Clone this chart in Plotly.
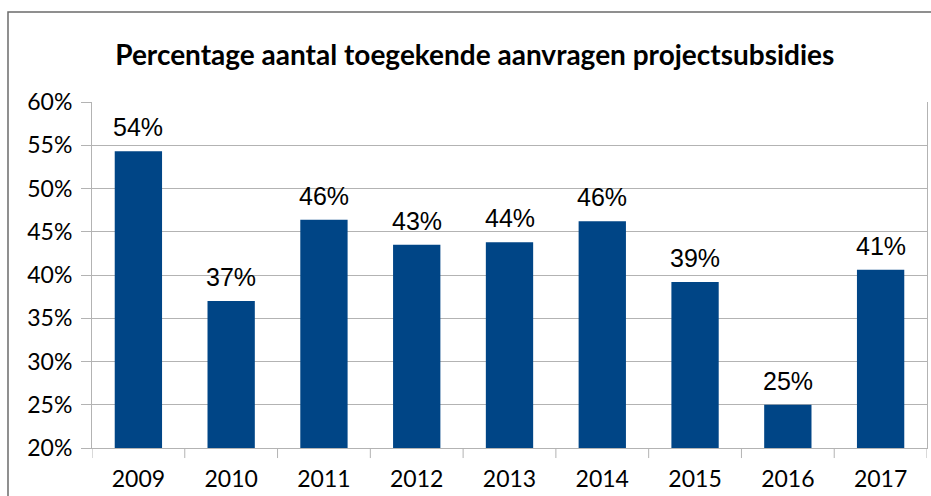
import plotly.graph_objects as go

years = ["2009", "2010", "2011", "2012", "2013", "2014", "2015", "2016", "2017"]
values = [0.543, 0.370, 0.464, 0.435, 0.438, 0.462, 0.392, 0.250, 0.406]
labels = ["54%", "37%", "46%", "43%", "44%", "46%", "39%", "25%", "41%"]
title_text = "Percentage aantal toegekende aanvragen projectsubsidies"

BAR = "#004586"
GRID = "#b3b3b3"

fig = go.Figure()
fig.add_trace(go.Bar(x=list(range(len(years))), y=values, marker_color=BAR,
                     marker_line_width=0, hoverinfo="skip"))

for i, (v, lab) in enumerate(zip(values, labels)):
    fig.add_annotation(x=i, y=v, xref="x", yref="y", text=lab, showarrow=False,
                       yanchor="bottom", yshift=8,
                       font=dict(family="Liberation Sans", size=25, color="#000000"))

fig.update_layout(
    width=931, height=496,
    margin=dict(l=92, r=4, t=102, b=48, autoexpand=False),
    paper_bgcolor="white", plot_bgcolor="white",
    bargap=0.49,
    showlegend=False,
    title=dict(text=f"<b>{title_text}</b>", x=0.51, xanchor="center", y=0.889, yanchor="middle",
               font=dict(family="Lato", size=28, color="#000000")),
    xaxis=dict(range=[-0.5, len(years) - 0.5], tickmode="array",
               tickvals=list(range(len(years))), ticktext=years, tickangle=0,
               showline=True, linecolor=GRID, linewidth=1,
               ticks="", ticklabelstandoff=10, showgrid=False, automargin=False, zeroline=False,
               tickfont=dict(family="Lato", size=23, color="#000000")),
    yaxis=dict(range=[0.2, 0.6], dtick=0.05, tickformat=".0%",
               showgrid=True, gridcolor=GRID, gridwidth=1,
               showline=True, linecolor=GRID, linewidth=1, mirror=True,
               ticks="outside", ticklen=10, tickcolor=GRID, automargin=False,
               ticklabelstandoff=4, zeroline=False,
               tickfont=dict(family="Lato", size=23, color="#000000")),
)

# category boundary tick marks below the x axis
for i in range(len(years) + 1):
    fig.add_shape(type="line", xref="x", yref="paper", x0=i - 0.5, x1=i - 0.5,
                  y0=0, y1=-0.029, line=dict(color=GRID, width=1))

# outer chart frame
fig.add_shape(type="rect", xref="paper", yref="paper",
              x0=-0.1006, x1=1.2, y0=-0.3, y1=1.2601,
              line=dict(color="#6b6b6b", width=1.5), fillcolor="rgba(0,0,0,0)", layer="below")

fig.write_html("out.html", config={"displayModeBar": False},
               post_script="document.body.style.margin='0';document.body.style.overflow='hidden';")
